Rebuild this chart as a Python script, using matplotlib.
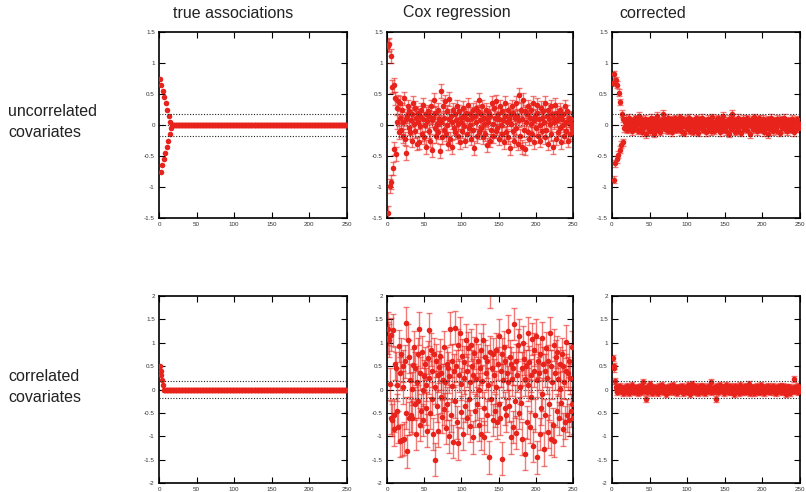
import numpy as np
import matplotlib
matplotlib.use("Agg")
import matplotlib.pyplot as plt
from matplotlib.ticker import FuncFormatter, MultipleLocator

# ---------------- data ----------------
col_titles = ["true associations", "Cox regression", "corrected"]
row_labels = ["uncorrelated\ncovariates", "correlated\ncovariates"]

true_top = [0.75, -0.75, 0.65, -0.65, 0.55, -0.55, 0.45, -0.45,
            0.35, -0.35, 0.25, -0.25, 0.15, -0.15, 0.05, -0.05] + [0.0] * 234

cox_top = [1.28, -1.42, 1.30, -0.98, 1.11, -0.92, 0.62, -0.70, 0.65, -0.38, 0.43, -0.47, 0.28, 0.05, 0.38, -0.12,
           0.36, 0.12, -0.08, 0.24, 0.05, -0.18, 0.43, -0.22, 0.10, -0.45,
           0.15, 0.30, -0.05, 0.22, -0.12, 0.08, 0.18, -0.25, 0.35, 0.02,
           -0.10, 0.28, 0.12, -0.30, 0.05, 0.20, -0.28, 0.15, -0.02, 0.25,
           -0.15, 0.10, 0.32, -0.20, 0.00, 0.18, -0.35, 0.06, 0.22, -0.10,
           0.14, -0.25, 0.30, 0.08, -0.40, 0.12, 0.40, -0.05, 0.20, -0.18,
           0.02, 0.25, -0.12, 0.10, -0.42, 0.55, 0.05, -0.20, 0.30, 0.12,
           -0.08, 0.38, -0.15, 0.22, 0.00, -0.30, 0.42, 0.10, -0.22, 0.15,
           0.05, -0.35, 0.25, -0.05, 0.18, -0.12, 0.08, 0.30, -0.18, 0.02,
           0.22, -0.28, 0.12, 0.05, -0.10, 0.28, -0.02, 0.15, -0.25, 0.20,
           0.10, -0.15, 0.32, -0.05, 0.18, 0.00, -0.22, 0.12, 0.25, -0.08,
           -0.37, 0.15, 0.05, 0.28, -0.18, 0.22, 0.40, -0.12, 0.08, 0.18,
           -0.05, 0.30, -0.20, 0.12, 0.02, -0.15, 0.25, 0.10, -0.32, 0.05,
           0.20, -0.25, 0.15, -0.08, 0.35, 0.02, -0.18, 0.28, 0.12, -0.10,
           0.38, -0.05, 0.18, -0.22, 0.10, 0.30, 0.00, -0.15, 0.22, 0.08,
           -0.28, 0.15, 0.35, -0.12, 0.05, 0.25, -0.20, 0.10, -0.37, 0.18,
           0.02, 0.30, -0.10, 0.20, -0.25, 0.12, 0.35, -0.05, 0.15, -0.30,
           0.48, 0.08, -0.18, 0.25, -0.35, 0.10, 0.40, -0.08, 0.22, -0.38,
           0.05, 0.18, -0.12, 0.30, -0.22, 0.12, 0.02, 0.25, -0.15, 0.35,
           0.08, -0.28, 0.15, -0.05, 0.20, 0.32, -0.18, 0.10, 0.00, -0.25,
           0.28, 0.12, -0.10, 0.22, 0.05, -0.20, 0.35, -0.08, 0.15, 0.25,
           -0.30, 0.10, 0.02, 0.30, -0.15, 0.18, -0.35, 0.12, 0.05, 0.32,
           -0.22, 0.08, 0.20, -0.12, 0.15, -0.05, 0.25, -0.28, 0.10, 0.00,
           0.18, -0.18, 0.30, 0.05, -0.10, 0.22, -0.25, 0.12, 0.08, -0.15,
           0.10, -0.05, 0.02, -0.12]

corr_top = [0.68, -0.88, 0.82, -0.62, 0.72, -0.55, 0.65, -0.48, 0.52, -0.40, 0.37, -0.32, 0.18, -0.28, 0.10, -0.05,
            0.05, -0.03, 0.10, -0.08, 0.02, 0.12, -0.05, 0.00, 0.08, -0.10,
            -0.02, 0.06, -0.06, 0.11, 0.03, -0.04, 0.07, -0.09, 0.01, 0.15,
            0.04, -0.07, 0.09, -0.12, 0.02, 0.06, -0.03, 0.10, -0.15, 0.05,
            -0.01, 0.08, -0.06, 0.03, -0.10, 0.12, 0.00, -0.05, 0.07, -0.14,
            0.09, 0.02, -0.08, 0.15, 0.04, -0.03, 0.06, -0.11, 0.01, 0.08,
            -0.04, 0.18, 0.03, -0.07, 0.10, -0.02, 0.05, -0.09, 0.12, 0.00,
            0.06, -0.05, 0.09, -0.12, 0.02, 0.07, -0.03, 0.11, -0.08, 0.04,
            -0.01, 0.08, -0.06, 0.03, 0.13, -0.10, 0.05, -0.02, 0.09, -0.13,
            0.02, 0.06, -0.04, 0.10, -0.07, 0.01, 0.12, -0.09, 0.04, -0.02,
            0.08, -0.11, 0.05, 0.00, -0.06, 0.11, 0.03, -0.13, 0.07, -0.03,
            0.09, -0.05, 0.02, 0.12, -0.08, 0.04, -0.01, 0.07, -0.12, 0.06,
            0.00, 0.10, -0.07, 0.03, -0.10, 0.08, 0.13, -0.04, 0.02, -0.09,
            0.05, -0.02, 0.09, -0.06, 0.11, 0.01, -0.12, 0.06, -0.03, 0.08,
            -0.08, 0.15, 0.02, -0.05, 0.07, -0.10, 0.04, 0.00, 0.10, -0.14,
            0.03, -0.06, 0.09, 0.18, -0.04, 0.06, -0.11, 0.02, 0.08, -0.03,
            0.12, -0.09, 0.05, -0.01, 0.07, -0.13, 0.03, 0.10, -0.06, 0.01,
            0.08, -0.04, 0.11, -0.08, 0.02, 0.06, -0.15, 0.04, -0.02, 0.09,
            -0.07, 0.03, 0.13, -0.05, 0.00, 0.08, -0.10, 0.05, -0.03, 0.11,
            0.02, -0.08, 0.06, -0.01, 0.10, -0.12, 0.04, 0.07, -0.05, 0.02,
            -0.15, 0.09, 0.03, -0.07, 0.12, -0.02, 0.05, -0.10, 0.08, 0.00,
            0.06, -0.04, 0.10, -0.09, 0.03, 0.07, -0.13, 0.01, 0.09, -0.05,
            0.04, -0.02, 0.12, -0.07, 0.05, 0.00, -0.10, 0.08, -0.03, 0.06,
            0.02, -0.08, 0.10, -0.04, 0.07, -0.12, 0.03, 0.05, -0.06, 0.09,
            -0.02, 0.04, -0.05, 0.02]

true_bot = [0.5, 0.4, 0.3, 0.2, 0.1] + [0.0] * 245

cox_bot = [1.10, 1.30, 1.05, 0.12, -0.60, 1.17, -0.65, 1.27, -0.55, -0.85,
           0.55, 0.45, -0.45, 0.10, -0.80, 0.93, -1.10, 0.35, 0.75, -1.08,
           0.50, 0.05, -1.05, 0.60, -0.50, 1.42, -1.32, 1.05, -0.62, 0.70,
           0.20, -0.55, 0.02, -0.60, 0.52, 0.90, -0.30, 0.45, -0.95, 0.15,
           0.75, -0.25, 1.30, -0.75, 0.35, -0.45, 0.80, 0.00, -0.65, 0.28,
           0.55, -0.40, 0.10, -0.88, 0.68, 0.25, 1.28, -0.50, 0.85, -0.20,
           0.40, -0.95, 0.75, 0.05, -1.50, 0.62, -0.35, 0.30, -0.88, 0.48,
           0.72, -0.15, 0.35, -0.58, 0.20, -0.42, 0.90, 0.15, -0.82, 0.55,
           -0.30, 0.45, -1.00, 0.28, 1.30, -0.55, 0.62, 0.08, -1.12, 0.40,
           1.32, -0.25, 0.50, -0.70, 0.95, -1.15, 0.30, 1.20, -0.48, 0.12,
           0.72, -0.95, 0.58, 0.25, -0.35, 1.05, -0.60, 0.40, 0.88, -0.20,
           0.15, -0.78, 0.95, 0.50, -1.02, 0.30, 0.78, -0.45, 0.22, 1.05,
           -0.30, 0.62, 0.00, -0.75, 0.45, 0.85, -0.95, 0.18, 1.05, -0.40,
           -1.02, 0.70, 0.35, -0.55, 0.60, 0.10, -1.45, 0.80, 2.10, -0.20,
           0.45, -0.65, 0.75, 0.30, -0.45, 0.85, 0.05, -0.70, 0.55, -0.30,
           1.15, -0.62, 0.40, 0.75, -1.48, 0.20, 0.90, -0.40, 0.60, -0.55,
           0.35, 0.15, 1.25, -0.35, 0.70, -1.02, 0.55, 0.22, -0.80, 0.45,
           1.40, -0.25, 0.62, -0.92, 0.30, 0.95, -0.50, 1.15, 0.05, -0.28,
           0.45, -1.05, 1.00, 0.65, -1.38, 0.22, 0.50, -0.70, 1.20, 0.10,
           0.58, -0.80, 0.30, -0.15, 1.08, -1.20, 0.40, 0.85, -0.55, 1.15,
           0.20, -1.45, 0.62, 0.35, -0.95, 0.75, -0.40, 1.10, -0.10, 0.55,
           -1.28, 0.40, -0.55, 0.88, 0.25, -0.90, 0.60, -0.30, 1.20, -1.05,
           0.50, 0.15, -0.75, 0.95, -1.10, 0.35, 0.70, -0.45, 0.80, 0.22,
           -0.62, 0.55, 0.02, -0.28, 0.75, -0.85, 0.50, 0.15, -0.70, 0.40,
           1.02, -0.55, 0.35, -0.65, 0.62, 0.25, -0.45, 0.90, -0.30, -0.60]

corr_bot = [0.68, 0.45, 0.50, 0.18, 0.05,
            0.02, -0.06, 0.05, 0.00, -0.04, 0.07, -0.02, 0.03, -0.08, 0.04,
            0.01, -0.05, 0.06, -0.03, 0.08, 0.00, -0.07, 0.03, 0.05, -0.02,
            0.09, -0.04, 0.02, -0.06, 0.04, 0.01, -0.03, 0.06, -0.08, 0.03,
            0.00, 0.05, -0.05, 0.07, -0.02, 0.15, 0.02, -0.04, 0.04, -0.20,
            0.03, -0.06, 0.08, 0.01, 0.12, -0.03, 0.05, -0.07, 0.02, 0.04,
            -0.01, 0.06, -0.05, 0.03, 0.00, -0.08, 0.07, 0.02, -0.03, 0.05,
            0.09, -0.04, 0.01, -0.06, 0.04, 0.02, -0.10, 0.06, -0.02, 0.03,
            -0.05, 0.08, 0.00, -0.03, 0.05, 0.10, -0.06, 0.02, 0.04, -0.01,
            0.06, -0.07, 0.03, -0.02, 0.05, 0.01, -0.04, 0.07, -0.08, 0.02,
            0.04, -0.03, 0.06, 0.00, -0.05, 0.09, -0.02, 0.03, -0.09, 0.05,
            0.01, 0.11, -0.04, 0.02, -0.06, 0.07, 0.00, -0.03, 0.04, -0.07,
            0.06, 0.08, -0.02, 0.03, -0.05, 0.08, -0.01, 0.04, -0.08, 0.02,
            0.05, -0.03, 0.04, 0.07, -0.02, 0.15, -0.06, 0.01, 0.03, -0.04,
            -0.03, 0.05, -0.20, 0.07, 0.01, -0.06, 0.04, 0.10, -0.02, 0.03,
            -0.04, 0.06, 0.00, -0.07, 0.05, 0.02, 0.09, -0.03, 0.04, -0.05,
            0.01, 0.07, -0.06, 0.03, -0.02, 0.05, -0.09, 0.08, 0.00, 0.03,
            -0.04, 0.06, 0.02, -0.07, 0.10, -0.01, 0.04, -0.05, 0.03, 0.06,
            -0.03, 0.08, -0.06, 0.01, 0.05, -0.02, 0.12, -0.08, 0.04, 0.00,
            0.06, -0.04, 0.03, -0.07, 0.05, 0.02, -0.03, 0.07, -0.05, 0.01,
            0.04, -0.06, 0.09, 0.00, -0.02, 0.05, -0.08, 0.03, 0.06, -0.04,
            0.02, 0.07, -0.03, 0.05, -0.06, 0.01, 0.04, -0.02, 0.08, -0.05,
            0.03, 0.00, -0.07, 0.06, 0.02, -0.04, 0.05, -0.01, 0.07, -0.06,
            0.04, -0.03, 0.08, 0.01, -0.05, 0.06, -0.10, 0.03, 0.06, -0.02,
            0.05, -0.07, 0.02, 0.04, -0.03, 0.01, 0.22, -0.04, 0.06, 0.00,
            0.03, -0.05, 0.07, -0.02, -0.03]

err_top = [0.0, 0.11, 0.055]
err_bot = [0.0, 0.35, 0.065]
thresh = 0.18
ylims = [1.5, 2.0]

panels = [[true_top, cox_top, corr_top], [true_bot, cox_bot, corr_bot]]
errs = [err_top, err_bot]

# ---------------- figure ----------------
W, H = 806, 492
fig = plt.figure(figsize=(W / 100, H / 100), dpi=100)

col_left = [159, 387, 612]
col_width = [188, 186, 188]
row_top = [32, 296]
row_height = [186, 187]

red = "#e8231c"
fam = ["Liberation Sans", "DejaVu Sans"]

for r in range(2):
    for c in range(3):
        l = col_left[c] / W
        b = 1 - (row_top[r] + row_height[r]) / H
        ax = fig.add_axes([l, b, col_width[c] / W, row_height[r] / H])
        vals = np.array(panels[r][c], dtype=float)
        x = np.arange(1, len(vals) + 1)
        lim = ylims[r]
        # reference lines
        ax.axhline(0, color="#333333", lw=0.8, ls=(0, (1, 1.5)), zorder=1)
        ax.axhline(thresh, color="#222222", lw=0.8, ls=(0, (1, 1.5)), zorder=5)
        ax.axhline(-thresh, color="#222222", lw=0.8, ls=(0, (1, 1.5)), zorder=5)
        e = errs[r][c]
        if e > 0:
            ax.errorbar(x, vals, yerr=e, fmt="none", ecolor=red, alpha=0.6,
                        elinewidth=1.0, capsize=2.0, capthick=1.0, zorder=2)
        ax.plot(x, vals, "o", color=red, ms=4.0, mec="none", zorder=3)
        ax.set_xlim(0, 250)
        ax.set_ylim(-lim, lim)
        ax.xaxis.set_major_locator(MultipleLocator(50))
        ax.yaxis.set_major_locator(MultipleLocator(0.5))
        ax.yaxis.set_major_formatter(FuncFormatter(lambda v, p: "%g" % v))
        ax.tick_params(direction="in", length=4, width=0.8, labelsize=4.5,
                       top=True, right=True, pad=3, colors="black",
                       labelcolor="#333333")
        for s in ax.spines.values():
            s.set_linewidth(1.2)
        for lab in ax.get_xticklabels() + ax.get_yticklabels():
            lab.set_family(fam)

title_x = [233, 457, 653]
for c in range(3):
    fig.text(title_x[c] / W, 1 - 13 / H, col_titles[c], ha="center", va="center",
             fontsize=11.5, family=fam, color="#222222")

label_y = [122, 387]
for r in range(2):
    fig.text(8 / W, 1 - label_y[r] / H, row_labels[r], ha="left", va="center",
             fontsize=11.5, family=fam, color="#222222", linespacing=1.55)

fig.savefig("out.png", dpi=100)
